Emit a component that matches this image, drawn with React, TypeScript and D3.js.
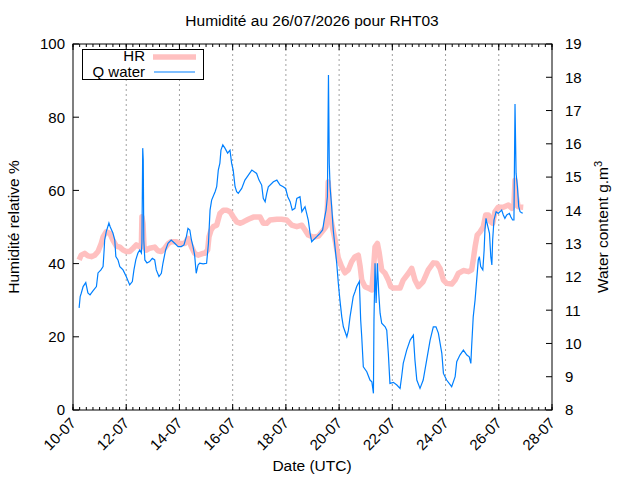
import React from 'react';
import * as d3 from 'd3';

const TITLE = 'Humidité au 26/07/2026 pour RHT03';
const START = Date.UTC(2026, 6, 10);
const END = Date.UTC(2026, 6, 28);
const DAY = 86400000;

// days after 10-07 00:00 UTC, relative humidity in %
const hrDays = [
  0.23, 0.31, 0.44, 0.56, 0.69, 0.82, 0.94, 1.06, 1.13, 1.25, 1.38, 1.5, 1.63, 1.76, 1.88, 2.0,
  2.13, 2.26, 2.38, 2.51, 2.57, 2.59, 2.63, 2.67, 2.76, 2.88, 3.07, 3.19, 3.32, 3.45, 3.57, 3.69,
  3.88, 4.01, 4.2, 4.32, 4.45, 4.57, 4.7, 4.89, 4.96, 5.06, 5.11, 5.19, 5.27, 5.4, 5.52, 5.65,
  5.78, 5.9, 6.02, 6.15, 6.28, 6.4, 6.59, 6.78, 7.03, 7.15, 7.28, 7.4, 7.66, 7.84, 8.03, 8.22,
  8.41, 8.6, 8.72, 8.84, 9.03, 9.22, 9.41, 9.51, 9.56, 9.59, 9.66, 9.72, 9.85, 9.97, 10.1, 10.22,
  10.35, 10.47, 10.6, 10.72, 10.79, 10.85, 10.97, 11.1, 11.23, 11.29, 11.35, 11.44, 11.51, 11.6,
  11.73, 11.85, 11.94, 12.04, 12.29, 12.41, 12.6, 12.73, 12.85, 12.98, 13.16, 13.35, 13.54, 13.67,
  13.79, 13.92, 14.04, 14.23, 14.36, 14.48, 14.67, 14.86, 14.98, 15.04, 15.11, 15.19, 15.3, 15.42,
  15.51, 15.61, 15.7, 15.77, 15.86, 15.98, 16.17, 16.36, 16.49, 16.57, 16.61, 16.65, 16.73, 16.92
];
const hrValues = [
  41.0, 42.3, 42.8, 42.1, 41.9, 42.3, 43.3, 45.5, 47.3, 48.7, 48.3, 46.4, 44.8, 44.5, 43.7, 43.3,
  43.3, 44.2, 45.1, 44.6, 45.5, 52.8, 51.0, 44.6, 43.7, 44.2, 44.5, 43.5, 43.3, 44.2, 45.4, 46.0,
  46.0, 45.5, 45.5, 46.9, 44.6, 42.8, 42.3, 42.8, 42.8, 43.7, 47.3, 49.2, 50.1, 50.5, 53.7, 54.6,
  54.6, 54.2, 52.8, 51.4, 51.0, 51.4, 52.1, 52.7, 52.7, 51.0, 51.0, 51.9, 52.1, 52.1, 51.9, 50.5,
  50.1, 50.5, 49.2, 47.8, 47.2, 47.5, 49.2, 50.1, 55.5, 62.3, 53.7, 51.0, 46.4, 41.5, 39.1, 37.5,
  38.3, 40.5, 41.9, 42.3, 39.2, 35.5, 33.7, 33.3, 32.8, 38.3, 44.6, 45.5, 42.8, 38.3,
  37.3, 35.5, 33.7, 33.3, 33.3, 35.5, 37.3, 38.7, 35.5, 33.7, 35.1, 38.3, 40.2, 40.1,
  38.7, 35.5, 34.6, 34.4, 35.5, 37.3, 38.1, 37.8, 38.3, 41.0, 44.6, 47.8, 48.7, 50.1,
  53.3, 53.3, 51.4, 51.0, 54.2, 55.4, 55.4, 56.0, 55.1, 56.0, 62.8, 58.7, 55.5, 55.4
];

// days after 10-07 00:00 UTC, water content in g.m-3
const qDays = [
  0.23, 0.27, 0.31, 0.38, 0.48, 0.56, 0.64, 0.75, 0.88, 0.94, 1.05, 1.13, 1.17, 1.19, 1.25, 1.35,
  1.4, 1.5, 1.57, 1.61, 1.69, 1.76, 1.88, 2.0, 2.13, 2.23, 2.29, 2.36, 2.44, 2.51, 2.57, 2.59,
  2.62, 2.64, 2.66, 2.7, 2.78, 2.88, 2.98, 3.07, 3.13, 3.23, 3.32, 3.38, 3.48, 3.57, 3.69, 3.82,
  3.95, 4.07, 4.17, 4.26, 4.32, 4.39, 4.45, 4.51, 4.57, 4.63, 4.7, 4.76, 4.89, 5.02, 5.09, 5.15,
  5.21, 5.34, 5.4, 5.46, 5.52, 5.56, 5.63, 5.71, 5.81, 5.9, 5.96, 6.02, 6.09, 6.15, 6.21, 6.34,
  6.46, 6.59, 6.72, 6.81, 6.9, 6.99, 7.09, 7.15, 7.22, 7.28, 7.34, 7.53, 7.66, 7.78, 7.9, 7.99,
  8.07, 8.16, 8.24, 8.34, 8.41, 8.53, 8.6, 8.72, 8.78, 8.84, 8.91, 8.97, 9.03, 9.16, 9.28, 9.38,
  9.44, 9.51, 9.56, 9.6, 9.63, 9.66, 9.72, 9.78, 9.85, 9.91, 9.97, 10.03, 10.1, 10.16, 10.29, 10.35,
  10.41, 10.47, 10.53, 10.6, 10.66, 10.76, 10.81, 10.85, 10.91, 11.04, 11.16, 11.23, 11.29, 11.31,
  11.35, 11.39, 11.44, 11.49, 11.54, 11.6, 11.73, 11.79, 11.85, 11.91, 12.04, 12.17, 12.29, 12.35,
  12.41, 12.54, 12.67, 12.79, 12.85, 12.92, 13.04, 13.16, 13.29, 13.42, 13.54, 13.64, 13.73, 13.86,
  13.92, 14.04, 14.23, 14.36, 14.42, 14.54, 14.67, 14.8, 14.89, 14.95, 14.98, 15.04, 15.11, 15.17,
  15.23, 15.27, 15.32, 15.4, 15.45, 15.48, 15.52, 15.59, 15.65, 15.7, 15.74, 15.77, 15.82, 15.9,
  15.98, 16.11, 16.17, 16.23, 16.3, 16.4, 16.45, 16.52, 16.57, 16.61, 16.65, 16.7, 16.75, 16.8,
  16.86, 16.9
];
const qValues = [
  11.07, 11.41, 11.51, 11.71, 11.83, 11.52, 11.46, 11.58, 11.71, 12.12, 12.21, 12.31, 12.81, 13.11, 13.36, 13.62,
  13.5, 13.32, 13.11, 12.61, 12.51, 12.31, 12.21, 12.01, 11.76, 11.86, 12.21, 12.51, 12.72, 12.81, 12.72, 13.02,
  15.87, 15.51, 13.11, 12.51, 12.42, 12.46, 12.56, 12.51, 12.21, 12.01, 12.11, 12.41, 12.81, 13.01, 13.11, 13.01,
  12.91, 12.91, 12.96, 13.21, 13.46, 13.41, 13.11, 12.91, 12.66, 12.11, 12.36, 12.41, 12.39, 12.41, 13.01, 14.01,
  14.31, 14.56, 14.71, 15.21, 15.42, 15.81, 15.97, 15.87, 15.72, 15.81, 15.42, 15.21, 14.71, 14.56, 14.51, 14.66,
  14.91, 15.06, 15.21, 15.16, 15.11, 14.91, 14.76, 14.36, 14.26, 14.51, 14.71, 14.86, 14.91, 14.76, 14.71, 14.66,
  14.41, 14.26, 14.01, 14.06, 14.36, 14.41, 13.96, 14.11, 13.91, 13.71, 13.31, 13.06, 13.11, 13.21, 13.31, 13.41,
  13.71, 14.01, 14.41, 18.07, 15.42, 14.71, 14.11, 13.41, 12.87, 12.41, 11.81, 11.31, 10.8, 10.5, 10.2, 10.4,
  10.8, 11.1, 11.41, 11.56, 11.71, 11.86, 10.71, 10.2, 9.3, 9.15, 8.9, 8.85, 8.5, 10.71,
  12.41, 11.22, 12.41, 11.51, 10.91, 10.61, 10.5, 10.4, 9.7, 8.8, 8.83, 8.75, 8.65, 9.0,
  9.4, 9.8, 10.1, 10.25, 9.5, 8.9, 8.65, 8.9, 9.5, 10.1, 10.5, 10.5, 10.31, 9.7,
  9.1, 8.9, 8.7, 9.0, 9.45, 9.65, 9.8, 9.65, 9.6, 9.4, 9.9, 10.8, 11.31, 11.91,
  12.51, 12.61, 12.31, 12.21, 12.81, 13.41, 13.76, 13.51, 13.31, 12.61, 12.36, 13.11, 13.71, 13.96,
  13.91, 14.01, 13.86, 13.76, 13.86, 13.91, 13.81, 13.71, 13.71, 17.2, 15.11, 14.71, 14.11, 13.96,
  13.93, 13.91
];

// major date ticks, in days after 10-07
const dateTickDays = [0, 2, 4, 6, 8, 10, 12, 14, 16, 18];
const hrTicks = [0, 20, 40, 60, 80, 100];
const qTicks = [8, 9, 10, 11, 12, 13, 14, 15, 16, 17, 18, 19];

const FONT = '"Liberation Sans", Arial, Helvetica, sans-serif';
const L = 73;
const R = 552;
const T = 44;
const B = 410;

const App: React.FC = () => {
  const x = d3.scaleUtc().domain([new Date(START), new Date(END)]).range([L, R]);
  const yHr = d3.scaleLinear().domain([0, 100]).range([B, T]);
  const yQ = d3.scaleLinear().domain([8, 19]).range([B, T]);

  const majorTicks = dateTickDays.map(d => new Date(START + d * DAY));
  const minorTicks = d3.utcHour.every(6)!.range(new Date(START), new Date(END + 1));
  const fmt = d3.utcFormat('%d-%m');

  const hrPoints: [number, number][] = hrDays.map((d, i) => [d, hrValues[i]]);
  const qPoints: [number, number][] = qDays.map((d, i) => [d, qValues[i]]);

  const hrLine = d3.line<[number, number]>()
    .x(p => x(new Date(START + p[0] * DAY)))
    .y(p => yHr(p[1]));
  const qLine = d3.line<[number, number]>()
    .x(p => x(new Date(START + p[0] * DAY)))
    .y(p => yQ(p[1]));

  return (
    <svg
      width={640}
      height={480}
      style={{ position: 'absolute', left: 0, top: 0, background: '#fff' }}
      fontFamily={FONT}
    >
      <rect width={640} height={480} fill="#fff" />

      {majorTicks.slice(1, -1).map(t => (
        <line key={`g${+t}`} x1={x(t)} x2={x(t)} y1={T} y2={B}
          stroke="#a0a0a0" strokeWidth={1} strokeDasharray="2,3" />
      ))}

      <path d={hrLine(hrPoints) ?? ''} fill="none" stroke="#ffc0c0" strokeWidth={5.5} strokeLinejoin="round" />
      <path d={qLine(qPoints) ?? ''} fill="none" stroke="#0080ff" strokeWidth={1.2} />

      <rect x={L} y={T} width={R - L} height={B - T} fill="none" stroke="#000" strokeWidth={1} />

      {minorTicks.map(t => (
        <g key={`m${+t}`}>
          <line x1={x(t)} x2={x(t)} y1={B} y2={B - 3} stroke="#000" />
          <line x1={x(t)} x2={x(t)} y1={T} y2={T + 3} stroke="#000" />
        </g>
      ))}
      {majorTicks.map(t => (
        <g key={`t${+t}`}>
          <line x1={x(t)} x2={x(t)} y1={B} y2={B - 6} stroke="#000" />
          <line x1={x(t)} x2={x(t)} y1={T} y2={T + 6} stroke="#000" />
          <text
            transform={`translate(${x(t) + 4},${B + 14}) rotate(-45)`}
            textAnchor="end" fontSize={15} fill="#000"
          >{fmt(t)}</text>
        </g>
      ))}

      {hrTicks.map(v => (
        <g key={`h${v}`}>
          <line x1={L} x2={L + 6} y1={yHr(v)} y2={yHr(v)} stroke="#000" />
          <text x={L - 8} y={yHr(v)} dy="0.36em" textAnchor="end" fontSize={15} fill="#000">{v}</text>
        </g>
      ))}
      {qTicks.map(v => (
        <g key={`q${v}`}>
          <line x1={R} x2={R - 6} y1={yQ(v)} y2={yQ(v)} stroke="#000" />
          <text x={R + 13} y={yQ(v)} dy="0.36em" textAnchor="start" fontSize={15} fill="#000">{v}</text>
        </g>
      ))}

      <text x={312} y={26} textAnchor="middle" fontSize={15.5} fill="#000">{TITLE}</text>
      <text x={312} y={471} textAnchor="middle" fontSize={15.5} fill="#000">Date (UTC)</text>
      <text transform="translate(19,227) rotate(-90)" textAnchor="middle" fontSize={15.5} fill="#000">
        Humidité relative %
      </text>
      <text transform="translate(608,227) rotate(-90)" textAnchor="middle" fontSize={15.5} fill="#000">
        Water content g.m<tspan dy={-6} fontSize={11}>3</tspan>
      </text>

      <rect x={82.5} y={49.5} width={121} height={30} fill="#fff" stroke="#000" strokeWidth={1} />
      <text x={145} y={60.5} textAnchor="end" fontSize={15} fill="#000">HR</text>
      <line x1={153} x2={196} y1={57} y2={57} stroke="#ffc0c0" strokeWidth={5.5} />
      <text x={145} y={76.5} textAnchor="end" fontSize={15} fill="#000">Q water</text>
      <line x1={154} x2={195} y1={72} y2={72} stroke="#0080ff" strokeWidth={1.2} />
    </svg>
  );
};

export default App;
